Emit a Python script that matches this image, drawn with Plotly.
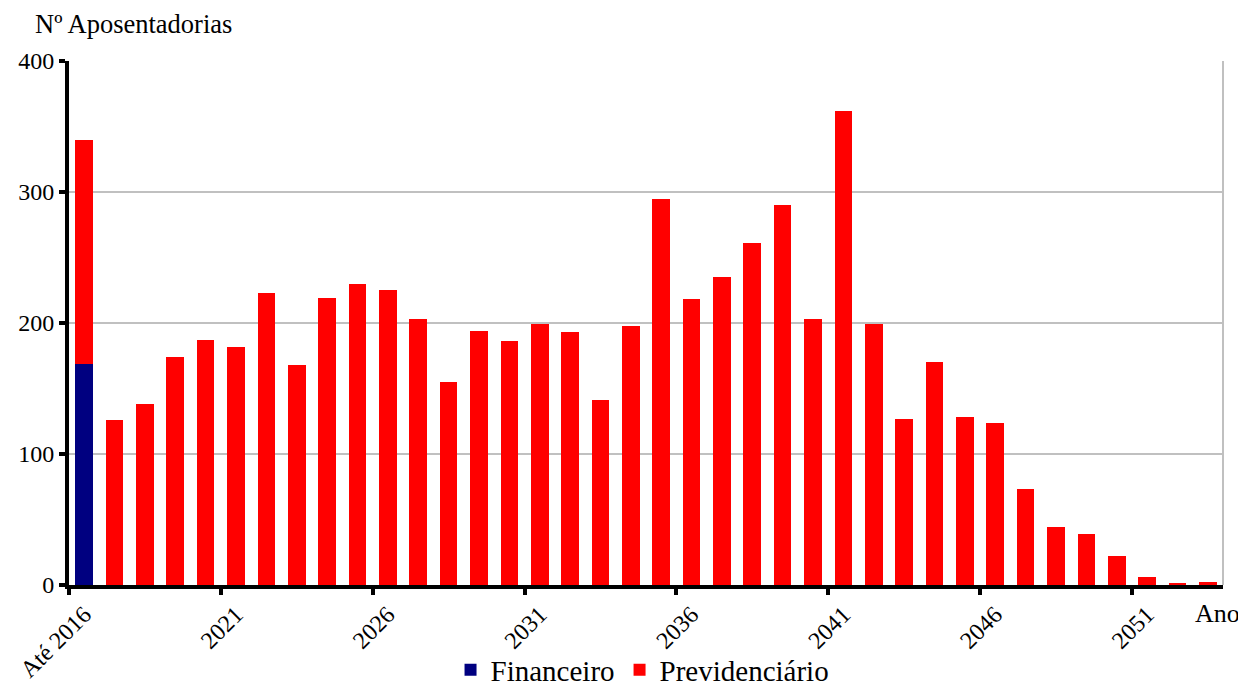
import plotly.graph_objects as go

# Número de aposentadorias por ano
anos = ["Até 2016"] + [str(a) for a in range(2017, 2054)]
financeiro = [169] + [0] * 37
previdenciario = [171, 126, 138, 174, 187, 182, 223, 168, 219, 230,
                  225, 203, 155, 194, 186, 199, 193, 141, 198, 295,
                  218, 235, 261, 290, 203, 362, 199, 127, 170, 128,
                  124, 73, 44, 39, 22, 6, 1, 2]

pos = list(range(len(anos)))
serif = "Liberation Serif"

fig = go.Figure()

fig.add_trace(go.Bar(
    x=pos, y=financeiro, name="Financeiro",
    marker=dict(color="#000080", line=dict(width=0)),
    hovertext=anos,
))
fig.add_trace(go.Bar(
    x=pos, y=previdenciario, name="Previdenciário",
    marker=dict(color="#ff0000", line=dict(width=0)),
    hovertext=anos,
))

# labels every 5 years; tick marks drawn on the category boundaries
label_pos = pos[::5]
label_txt = anos[::5]
boundary_pos = [p - 0.5 for p in pos[::5]]

fig.update_layout(
    width=1238, height=678,
    barmode="stack", bargap=0.42,
    plot_bgcolor="white", paper_bgcolor="white",
    font=dict(family=serif, size=24, color="black"),
    margin=dict(l=61, r=23, t=53, b=101, autoexpand=False),
    xaxis=dict(
        range=[-0.5, len(anos) - 0.5],
        tickmode="array", tickvals=label_pos, ticktext=label_txt,
        tickangle=-45, ticks="",
        minor=dict(tickmode="array", tickvals=boundary_pos,
                   ticks="outside", ticklen=6, tickwidth=4,
                   tickcolor="black", showgrid=False),
        showline=True, linecolor="black", linewidth=4,
        showgrid=False, zeroline=False, automargin=False,
        ticklabelstandoff=2, ticklabeloverflow="allow",
        tickfont=dict(family=serif, size=24),
    ),
    yaxis=dict(
        range=[0, 400], dtick=100,
        showline=True, linecolor="black", linewidth=4,
        ticks="outside", ticklen=6, tickwidth=4, tickcolor="black",
        showgrid=True, gridcolor="#c0c0c0", gridwidth=2,
        zeroline=False, automargin=False,
        tickfont=dict(family=serif, size=24),
    ),
    legend=dict(
        orientation="h", x=0.497, xanchor="center",
        y=-0.162, yanchor="middle", bgcolor="rgba(0,0,0,0)",
        font=dict(family=serif, size=29), itemwidth=30, traceorder="normal",
    ),
    shapes=[dict(type="line", xref="paper", yref="paper",
                 x0=1, x1=1, y0=0, y1=1,
                 line=dict(color="#c0c0c0", width=2))],
    annotations=[
        dict(text="Nº Aposentadorias", xref="paper", yref="paper",
             x=-0.031, y=1.0706, xanchor="left", yanchor="middle",
             showarrow=False, font=dict(family=serif, size=26.5)),
        dict(text="Ano", xref="paper", yref="paper",
             x=0.974, y=-0.055, xanchor="left", yanchor="middle",
             showarrow=False, font=dict(family=serif, size=26)),
    ],
)

fig.write_html("out.html")
